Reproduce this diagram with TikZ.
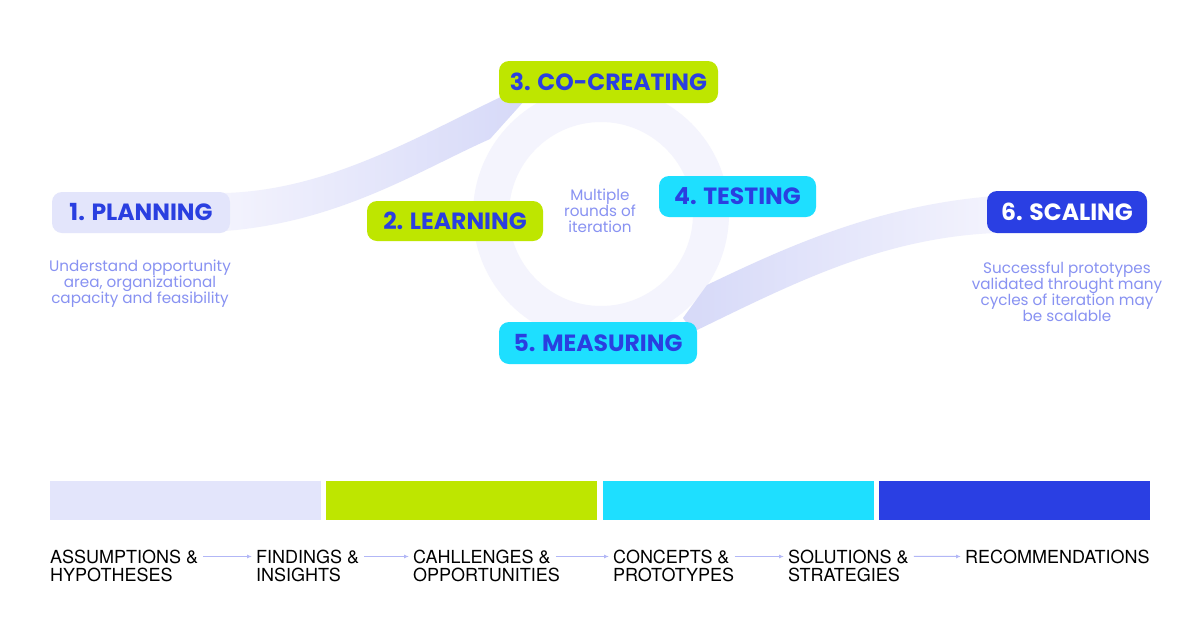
\documentclass[tikz,border=0pt]{standalone}
\usepackage{fontspec}
\setmainfont{Poppins}
\newfontfamily\labelfont{TeX Gyre Heros}
\usepackage{tikz}
\usetikzlibrary{positioning, arrows.meta}
\definecolor{boxlav}{RGB}{227,229,251}
\definecolor{boxlime}{RGB}{190,230,0}
\definecolor{boxcyan}{RGB}{30,223,255}
\definecolor{boxblue}{RGB}{42,63,227}
\definecolor{textblue}{RGB}{42,63,224}
\definecolor{notecol}{RGB}{136,146,242}
\definecolor{ringcol}{RGB}{244,244,253}
\definecolor{swooshlight}{RGB}{243,243,253}
\definecolor{swooshdark}{RGB}{214,217,248}
\definecolor{arrowcol}{RGB}{178,183,246}

\begin{document}
\begin{tikzpicture}[x=1pt, y=-1pt,
  stage/.style={rectangle, rounded corners=10pt, inner sep=0pt, align=center, text=textblue, font=\fontsize{23.5}{26}\selectfont\bfseries},
  note/.style={align=center, text=notecol, font=\fontsize{15.2}{16}\selectfont},
  bar/.style={rectangle, inner sep=0pt, minimum width=271pt, minimum height=39pt, anchor=north west},
  outcome/.style={anchor=base west, inner sep=0pt, font=\labelfont\fontsize{18}{18}\selectfont},
  flow/.style={draw=arrowcol, line width=1pt, -{Latex[length=5pt,width=4pt]}, shorten >=4pt, shorten <=5pt}
]
\fill[white] (0,0) rectangle (1200,630);
\useasboundingbox (0,0) rectangle (1200,630);

% iteration ring and swooshes
\draw[ringcol, line width=36pt] (601,214) circle[radius=110pt];
\shade[left color=swooshlight, right color=swooshdark]
  (225,193) .. controls (330,190) and (420,135) .. (505,95) -- (525,100) -- (490,139)
  .. controls (420,170) and (340,222) .. (225,231) -- cycle;
\shade[left color=swooshdark, right color=swooshlight]
  (683,318) -- (707,285) .. controls (790,245) and (880,205) .. (995,196) -- (995,233)
  .. controls (880,238) and (790,285) .. (693,332) -- cycle;

% stages
\node[stage, fill=boxlav, minimum width=178pt, minimum height=41pt] (plan) at (141,212.5) {1. PLANNING};
\node[stage, fill=boxlime, minimum width=176pt, minimum height=40pt] (learn) at (455,221) {2. LEARNING};
\node[stage, fill=boxlime, minimum width=219pt, minimum height=42pt] (cocreate) at (608.5,82) {3. CO-CREATING};
\node[stage, fill=boxcyan, minimum width=157pt, minimum height=41pt] (test) at (737.5,196.5) {4. TESTING};
\node[stage, fill=boxcyan, minimum width=198pt, minimum height=42pt] (measure) at (598,343) {5. MEASURING};
\node[stage, fill=boxblue, text=white, minimum width=160pt, minimum height=42pt] (scale) at (1067,212) {6. SCALING};

% notes
\node[note] (plannote) at (140,284) {Understand opportunity\\area, organizational\\capacity and feasibility};
\node[note] (iternote) at (600,211) {Multiple\\rounds of\\iteration};
\node[note] (scalenote) at (1067,292) {Successful prototypes\\validated throught many\\cycles of iteration may\\be scalable};

% phase bars
\node[bar, fill=boxlav] (bar1) at (50,481) {};
\node[bar, fill=boxlime] (bar2) at (326,481) {};
\node[bar, fill=boxcyan] (bar3) at (603,481) {};
\node[bar, fill=boxblue] (bar4) at (879,481) {};

% outcomes
\node[outcome] (o1) at (50,563) {ASSUMPTIONS \&};
\node[outcome] (o1b) at (50,581) {HYPOTHESES};
\node[outcome] (o2) at (256,563) {FINDINGS \&};
\node[outcome] (o2b) at (256,581) {INSIGHTS};
\node[outcome] (o3) at (413,563) {CAHLLENGES \&};
\node[outcome] (o3b) at (413,581) {OPPORTUNITIES};
\node[outcome] (o4) at (613,563) {CONCEPTS \&};
\node[outcome] (o4b) at (613,581) {PROTOTYPES};
\node[outcome] (o5) at (788,563) {SOLUTIONS \&};
\node[outcome] (o5b) at (788,581) {STRATEGIES};
\node[outcome] (o6) at (965,563) {RECOMMENDATIONS};

\foreach \a/\b in {o1/o2, o2/o3, o3/o4, o4/o5, o5/o6}
  \draw[flow] (\a) -- (\b);
\end{tikzpicture}
\end{document}
